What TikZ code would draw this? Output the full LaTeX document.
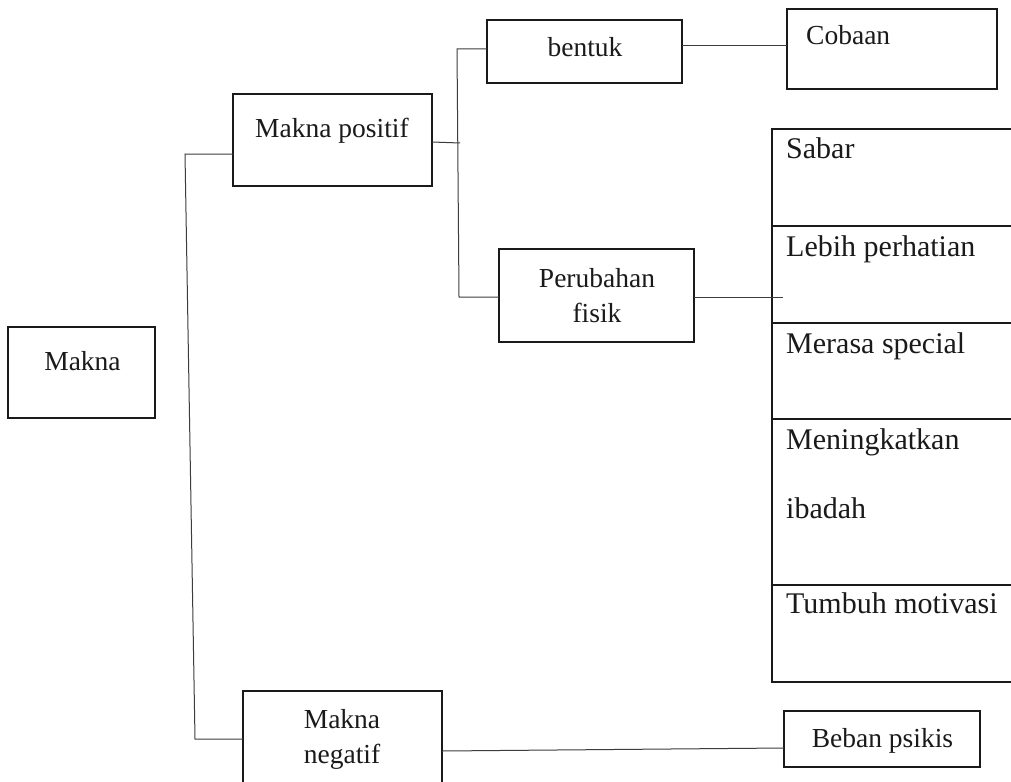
\documentclass[tikz,border=0pt]{standalone}
\usepackage{fontspec}
\setmainfont{Liberation Serif}
\usetikzlibrary{calc}
\definecolor{ink}{HTML}{1A1A1A}
\tikzset{
  box/.style={draw=ink, line width=2.2pt, rectangle, inner sep=0pt, outer sep=0pt},
  cell/.style={draw=ink, line width=1.2pt, rectangle, inner sep=0pt, outer sep=0pt,
    minimum width=258pt},
  btxt/.style={anchor=base, inner sep=0pt, text=ink, font=\fontsize{27.5}{30}\selectfont},
  ltxt/.style={anchor=base west, inner sep=0pt, text=ink, font=\fontsize{30}{33}\selectfont},
  link/.style={draw=ink!85, line width=1pt},
}
\begin{document}
\begin{tikzpicture}[x=1pt, y=-1pt]
\path[use as bounding box, fill=white] (0,0) rectangle (1011,781);
\clip (0,0) rectangle (1011,781);

% boxes of the tree
\node[box, minimum width=147pt, minimum height=91pt] (makna) at (81.5,372.5) {};
\node[box, minimum width=199pt, minimum height=92pt] (mpos) at (332.5,140) {};
\node[box, minimum width=195pt, minimum height=63pt] (bentuk) at (584.5,51.5) {};
\node[box, minimum width=210pt, minimum height=80pt] (cob) at (892,49) {};
\node[box, minimum width=195pt, minimum height=93pt] (peru) at (596.5,295.5) {};
\node[box, minimum width=199pt, minimum height=109pt] (mneg) at (342.5,745.5) {};
\node[box, minimum width=196pt, minimum height=56pt] (beban) at (882,739) {};

% list of changes
\node[cell, minimum height=97pt] (c1) at (901,177.5) {};
\node[cell, minimum height=97pt] (c2) at (901,274.5) {};
\node[cell, minimum height=96pt] (c3) at (901,371) {};
\node[cell, minimum height=166pt] (c4) at (901,502) {};
\node[cell, minimum height=97pt] (c5) at (901,633.5) {};

% box labels
\node[btxt] (makna-t) at (82.5,370) {Makna};
\node[btxt] (mpos-t) at (332,137) {Makna positif};
\node[btxt] (bentuk-t) at (585,57) {bentuk};
\node[btxt, anchor=base west] (cob-t) at (806,45) {Cobaan};
\node[btxt] (peru-t1) at (597,287) {Perubahan};
\node[btxt] (peru-t2) at (597,322) {fisik};
\node[btxt] (mneg-t1) at (342,728) {Makna};
\node[btxt] (mneg-t2) at (342,763) {negatif};
\node[btxt] (beban-t) at (882.5,747) {Beban psikis};

% list labels
\node[ltxt] (c1-t) at (786,158) {Sabar};
\node[ltxt] (c2-t) at (786,256) {Lebih perhatian};
\node[ltxt] (c3-t) at (786,353) {Merasa special};
\node[ltxt] (c4-t1) at (786,449) {Meningkatkan};
\node[ltxt] (c4-t2) at (786,518) {ibadah};
\node[ltxt] (c5-t) at (786,613) {Tumbuh motivasi};

% junction points
\coordinate (jA) at (185,154);
\coordinate (jB) at (195,739);
\coordinate (jC) at (457,49);
\coordinate (jD) at (459,297);
\coordinate (jE) at (460,143);
\coordinate (pe) at (783,297);

% connectors
\draw[link] (mpos.west |- jA) -- (jA) -- (jB) -- (mneg.west |- jB);
\draw[link] (mpos.east |- 0,142) -- (jE);
\draw[link] (bentuk.west |- jC) -- (jC) -- (jD) -- (peru.west |- jD);
\draw[link] (bentuk.east |- 0,46) -- (cob.west |- 0,46);
\draw[link] (peru.east |- pe) -- (pe);
\draw[link] (mneg.east |- 0,751) -- (beban.west |- 0,748);
\end{tikzpicture}
\end{document}
